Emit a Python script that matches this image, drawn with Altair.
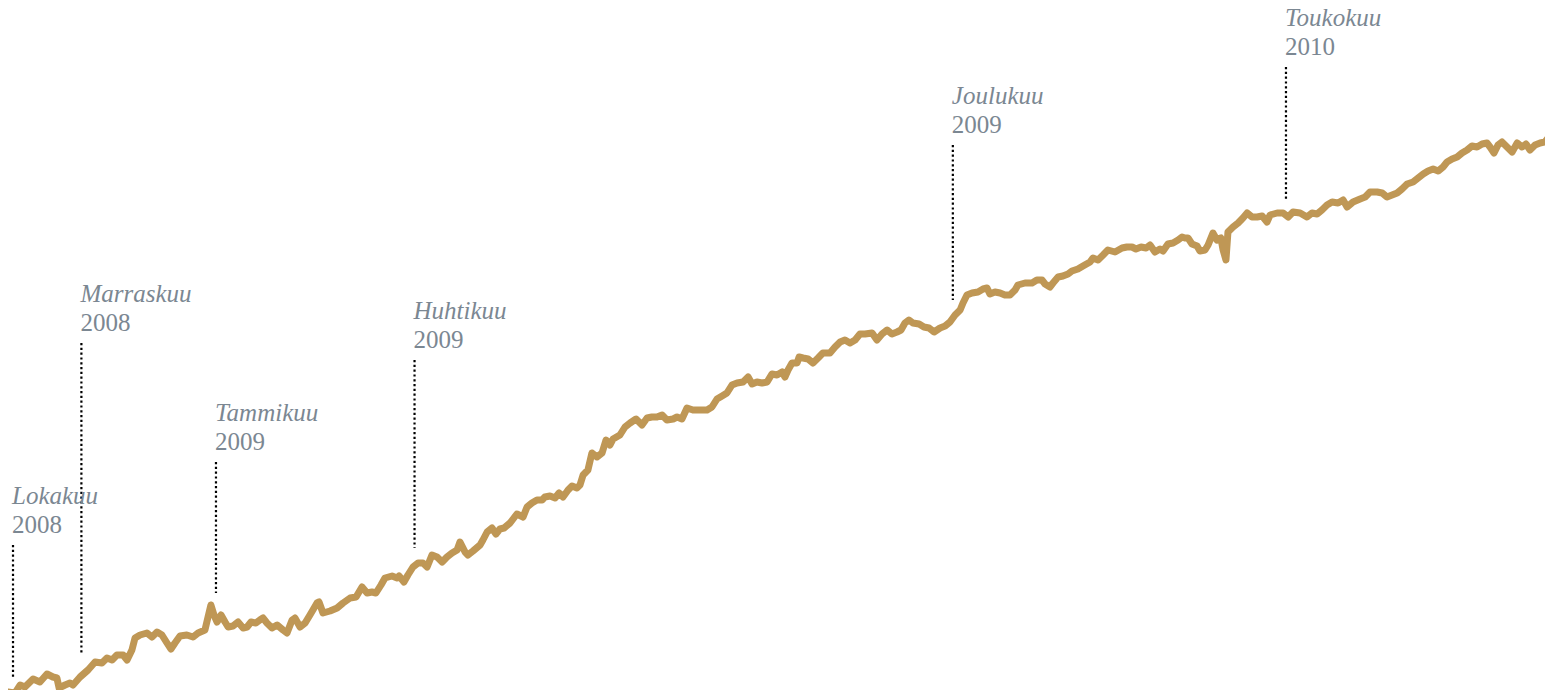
import altair as alt
import pandas as pd

# Päivät alkaen 1.10.2008 ja sarjan arvot (luettu kuvasta)
days = [
    -2.3, 0.9, 3.2, 5.4, 9.1, 12.2, 15.4, 18.1, 19.9, 20.9, 23.6, 25.8, 27.2, 30.4, 34.0, 37.2, 40.3, 42.6, 44.9, 47.1,
    49.9, 51.7, 53.9, 55.3, 57.6, 60.7, 63.0, 65.3, 67.5, 69.8, 71.6, 73.4, 75.7, 78.8, 81.6, 83.9, 87.0, 88.4, 89.7, 91.1,
    92.5, 94.3, 96.1, 97.5, 99.7, 102.0, 104.3, 106.1, 107.9, 110.1, 111.9,
    113.3, 115.1, 117.4, 119.7, 122.4, 124.2, 126.5, 127.8, 130.1, 132.4, 134.6, 137.8, 138.7, 140.5, 143.7, 146.9, 149.6,
    152.8, 155.5, 158.2, 160.5, 162.7, 164.5, 166.8, 168.6, 171.8, 174.1, 175.0, 177.2, 179.0, 181.3, 183.6, 185.8, 187.7,
    189.9, 192.2, 194.5, 196.7, 199.0, 201.3, 202.6, 204.9, 206.2, 208.5, 211.7, 213.0, 214.9, 217.1, 218.9, 220.7, 222.6, 225.3,
    228.4, 231.2, 233.0, 235.2, 237.5, 239.8, 241.1, 243.4, 245.7, 247.5, 249.3, 251.6, 253.4, 255.6, 257.0, 258.4, 260.6,
    262.4, 264.7, 267.0, 268.8, 270.6, 272.0, 275.1, 277.4, 279.7, 282.4, 285.1, 287.4, 289.6, 291.9, 294.2, 296.4, 299.2,
    301.0, 303.2, 305.5, 308.2, 311.4, 314.6, 316.8, 319.1, 321.4, 323.6, 325.9, 328.2, 330.9, 333.2, 335.0, 337.2, 339.5,
    341.8, 344.0, 346.3,
    348.6, 349.9, 351.3, 353.1, 355.4, 356.3, 358.1, 360.4, 362.6, 364.9, 367.1, 370.3, 372.6, 374.9, 377.1, 379.4, 381.7,
    383.9, 386.2, 389.4, 391.6, 393.9, 396.2, 398.4, 400.7, 402.5, 404.3, 406.1, 407.9, 410.7, 412.9, 415.2, 417.5, 420.2,
    422.5, 424.7, 427.0, 429.3, 430.6, 432.4, 434.7, 437.4, 439.7, 441.5, 442.8, 445.1, 447.4, 449.6, 451.9, 454.2, 455.5,
    458.7, 461.9,
    464.1, 466.4, 467.8, 470.0, 471.4, 473.7, 475.9, 478.2, 480.0, 482.7, 485.0, 488.2, 489.5, 491.8, 494.1, 496.3, 499.5,
    502.7, 504.9, 507.2, 509.0, 511.3, 513.6, 515.4, 517.6, 519.9, 521.3, 523.5, 525.8, 528.1, 529.9, 531.2, 532.6, 534.4,
    536.7, 538.0, 540.3, 541.7, 543.9, 545.7, 547.5, 548.5, 549.8, 550.7, 553.0, 555.3, 557.5, 559.4, 561.6, 563.9, 566.2,
    568.4, 569.8, 573.0, 575.7, 578.0, 580.2,
    583.4, 586.5, 588.8, 591.1, 593.3, 595.6, 597.9, 600.6, 602.9, 604.7, 607.4, 610.6, 612.9, 615.1, 618.3, 620.6, 622.8,
    625.1, 627.4, 629.6, 631.9, 634.6, 636.9, 639.2, 641.4, 643.7, 646.0, 648.2, 650.0, 652.3, 654.6, 656.8, 659.1, 661.3,
    663.6, 665.9, 668.1, 669.5, 671.3, 673.1, 674.9, 677.2, 679.5, 681.8, 684.0, 685.8, 687.6, 689.9, 692.2, 694.4, 695.8, 697.6,
]
values = [
    6, 5, 13, 11, 19, 16, 24, 21, 20, 10, 13, 15, 13, 21, 28, 36, 35, 40, 38, 43,
    43, 38, 48, 60, 63, 65, 61, 66, 63, 55, 49, 55, 62, 63, 61, 65, 68, 81, 93, 83,
    76, 83, 76, 71, 72, 76, 70, 71, 76, 75, 78,
    80, 75, 70, 73, 68, 65, 78, 80, 71, 75, 83, 95, 96, 85, 87, 90, 95,
    100, 101, 111, 105, 106, 105, 113, 120, 122, 120, 122, 116, 123, 131, 135, 135, 131,
    143, 141, 136, 141, 145, 148, 156, 146, 143, 147, 153, 158, 166, 170, 164, 169, 170, 175,
    184, 181, 191, 195, 198, 198, 201, 202, 200, 205, 201, 208, 212, 210, 213, 223, 228,
    245, 241, 245, 258, 253, 259, 263, 271, 275, 279, 273, 280, 281, 281, 283, 278, 279,
    281, 279, 290, 288, 288, 288, 291, 299, 302, 305, 313, 315, 316, 321, 314, 316, 315,
    316, 324, 323,
    326, 321, 328, 335, 335, 341, 340, 339, 335, 340, 345, 345, 351, 356, 358, 355, 358,
    364, 364, 365, 358, 364, 368, 364, 366, 368, 375, 378, 375, 374, 371, 370, 366, 370,
    372, 376, 383, 388, 395, 403, 405, 406, 409, 410, 404, 406, 405, 403, 403, 408, 413,
    415, 415,
    418, 418, 414, 411, 415, 421, 422, 424, 427, 429, 432, 436, 440, 438, 443, 448, 446,
    450, 451, 451, 449, 451, 450, 453, 446, 449, 447, 454, 455, 458, 461, 460, 460, 454,
    452, 447, 448, 453, 465, 458, 460, 448, 438, 466, 471, 475, 480, 485, 481, 481, 482,
    476, 483, 485, 485, 481, 486,
    485, 481, 485, 484, 488, 493, 496, 495, 498, 491, 496, 499, 501, 506, 506, 505, 501,
    503, 505, 509, 514, 516, 520, 524, 527, 529, 527, 531, 536, 539, 541, 545, 548, 552,
    551, 554, 555, 551, 545, 553, 556, 551, 546, 555, 551, 554, 548, 553, 555, 556, 560, 565,
]

# Huomautukset
ann_months = ["Lokakuu", "Marraskuu", "Tammikuu", "Huhtikuu", "Joulukuu", "Toukokuu"]
ann_years = ["2008", "2008", "2009", "2009", "2009", "2010"]
ann_days = [0, 31, 92, 182, 426, 577]
ann_top = [153, 355, 236, 338, 553, 631]
ann_bottom = [20, 43, 105, 150, 398, 499]

df = pd.DataFrame({"day": days, "value": values})
ann = pd.DataFrame({
    "month": ann_months, "year": ann_years, "day": ann_days,
    "top": ann_top, "bottom": ann_bottom,
})

xscale = alt.Scale(domain=[-2.27, 694.41], nice=False, zero=False)
yscale = alt.Scale(domain=[8, 690], nice=False, zero=False)

line = alt.Chart(df).mark_line(
    color="#bf9755", strokeWidth=7, strokeCap="round", strokeJoin="round"
).encode(
    x=alt.X("day:Q", scale=xscale, axis=None),
    y=alt.Y("value:Q", scale=yscale, axis=None),
)

rules = alt.Chart(ann).mark_rule(
    color="#000000", strokeWidth=2.2, strokeDash=[2.2, 2.6]
).encode(
    x=alt.X("day:Q", scale=xscale, axis=None),
    y=alt.Y("top:Q", scale=yscale, axis=None),
    y2="bottom:Q",
)

month_text = alt.Chart(ann).mark_text(
    align="left", baseline="alphabetic", dx=-1, dy=-41,
    font="Liberation Serif", fontSize=25, fontStyle="italic", color="#7b8792",
).encode(
    x=alt.X("day:Q", scale=xscale, axis=None),
    y=alt.Y("top:Q", scale=yscale, axis=None),
    text="month:N",
)

year_text = alt.Chart(ann).mark_text(
    align="left", baseline="alphabetic", dx=-1, dy=-12,
    font="Liberation Serif", fontSize=25, color="#7b8792",
).encode(
    x=alt.X("day:Q", scale=xscale, axis=None),
    y=alt.Y("top:Q", scale=yscale, axis=None),
    text="year:N",
)

chart = alt.layer(line, rules, month_text, year_text).properties(
    width=1537, height=682, padding=0, background="#ffffff",
    autosize=alt.AutoSizeParams(type="none"),
).configure_view(stroke=None, strokeWidth=0)

chart.save("out.html", embed_options={"renderer": "svg", "actions": False})
